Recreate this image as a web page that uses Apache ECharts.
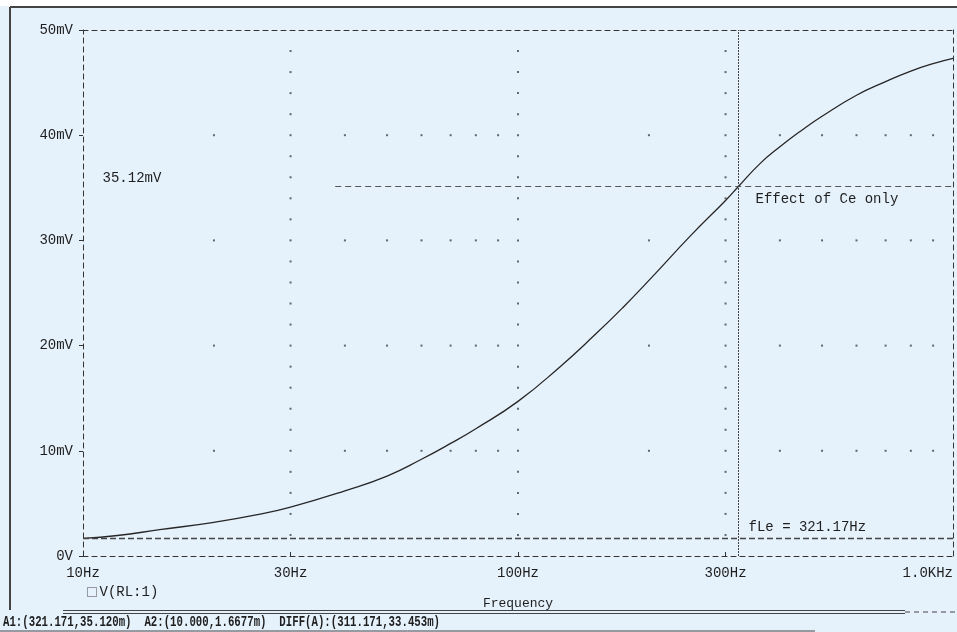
<!DOCTYPE html>
<html><head><meta charset="utf-8">
<script src="https://cdn.jsdelivr.net/npm/echarts@6/dist/echarts.min.js"></script>
<style>html,body{margin:0;padding:0;background:#e5f1fb;}#c{width:957px;height:632px;}</style>
</head><body><div id="c"></div>
<script>
// ---- data ----
const freqHz = [10,12,15,20,25,30,40,50,60,70,80,100,125,150,175,200,250,300,321.17,360,400,450,500,600,700,800,900,1000];
const vRL_mV = [1.67,1.95,2.5,3.2,3.9,4.65,6.2,7.6,9.2,10.7,12.1,14.7,18.0,21.0,23.7,26.2,30.5,33.8,35.12,37.3,38.9,40.5,41.8,43.8,45.1,46.1,46.8,47.3];
const xTickValues = [10,30,100,300,1000];
const xTickLabels = ['10Hz','30Hz','100Hz','300Hz','1.0KHz'];
const yTickValues = [0,10,20,30,40,50];
const yTickLabels = ['0V','10mV','20mV','30mV','40mV','50mV'];
const gridDotFreqs = [20,30,40,50,60,70,80,90,100,200,300,400,500,600,700,800,900];
const gridDotLevels = [10,20,30,40];
const gridColumnFreqs = [30,100,300];
const cursorA1 = [321.17, 35.12];
const cursorA2 = [10.0, 1.6677];
const cursorA1LineStart = 38;   // visible part of the A1 level line starts here (Hz)
const annoNames = ['35.12mV','Effect of Ce only','fLe = 321.17Hz'];
const annoFreq = [11.06, 350.6, 337.9];
const annoLevel = [35.93, 33.94, 2.76];
const statusText = 'A1:(321.171,35.120m)  A2:(10.000,1.6677m)  DIFF(A):(311.171,33.453m)';

const FONT = 'Liberation Mono';
const INK = '#1e1e1e';

const curve = freqHz.map((f,i)=>[f, vRL_mV[i]]);
const dots = [];
gridDotFreqs.forEach(f=>gridDotLevels.forEach(v=>dots.push([f,v])));
gridColumnFreqs.forEach(f=>{ for(let v=2; v<50; v+=2){ if(v%10) dots.push([f,v]); } });

function xLabel(v){
  const i = xTickValues.findIndex(t=>Math.abs(Math.log10(t)-Math.log10(v))<1e-6);
  return i>=0 ? xTickLabels[i] : '';
}
function yLabel(v){
  const i = yTickValues.findIndex(t=>Math.abs(t-v)<1e-9);
  return i>=0 ? yTickLabels[i] : '';
}

const chart = echarts.init(document.getElementById('c'), null, {renderer:'canvas'});
const dashed = {color:'#333', width:1, type:[5,4]};
chart.setOption({
  backgroundColor:'#e5f1fb',
  animation:false,
  grid:{left:83, right:4, top:30, bottom:76},
  legend:{
    data:[{name:'V(RL:1)', icon:'rect'}],
    left:82, top:580, itemWidth:9, itemHeight:9, itemGap:6,
    itemStyle:{color:'#e5f1fb', borderColor:'#444', borderWidth:1, borderType:'dotted'},
    textStyle:{fontFamily:FONT, fontSize:14, color:INK, padding:[0,0,0,-2]}
  },
  xAxis:[{
    type:'log', logBase:10, min:10, max:1000,
    axisLine:{onZero:false, lineStyle:dashed},
    axisTick:{show:true, inside:true, length:4, customValues:xTickValues, lineStyle:{color:'#333'}},
    axisLabel:{customValues:xTickValues, formatter:xLabel, fontFamily:FONT, fontSize:14, color:INK, margin:10, alignMaxLabel:'right'},
    splitLine:{show:false}, minorTick:{show:false}, minorSplitLine:{show:false},
    name:'Frequency', nameLocation:'middle', nameGap:41,
    nameTextStyle:{fontFamily:FONT, fontSize:13, color:INK}
  },{
    type:'log', logBase:10, min:10, max:1000, position:'top',
    axisLine:{onZero:false, lineStyle:dashed},
    axisTick:{show:false}, axisLabel:{show:false}, splitLine:{show:false}
  }],
  yAxis:[{
    type:'value', min:0, max:50, interval:10,
    axisLine:{show:true, onZero:false, lineStyle:dashed},
    axisTick:{show:true, length:4, lineStyle:{color:'#333'}},
    axisLabel:{formatter:yLabel, fontFamily:FONT, fontSize:14, color:INK, margin:10},
    splitLine:{show:false}
  },{
    type:'value', min:0, max:50, interval:10, position:'right',
    axisLine:{show:true, onZero:false, lineStyle:dashed},
    axisTick:{show:false}, axisLabel:{show:false}, splitLine:{show:false}
  }],
  series:[{
    name:'grid', type:'scatter', data:dots, symbol:'rect', symbolSize:2,
    itemStyle:{color:'#444'}, silent:true, z:1
  },{
    name:'V(RL:1)', type:'line', data:curve, showSymbol:false, smooth:true,
    lineStyle:{color:'#262626', width:1.3}, itemStyle:{color:'#262626'}, z:3,
    markLine:{
      silent:true, symbol:'none', label:{show:false},
      data:[
        [{coord:[cursorA1LineStart, cursorA1[1]], lineStyle:{color:'#555', width:1, type:[6,4]}}, {coord:[1000, cursorA1[1]]}],
        {yAxis:cursorA2[1], lineStyle:{color:'#444', width:1.4, type:[6,3]}},
        {xAxis:cursorA1[0], lineStyle:{color:'#444', width:1, type:[2,1]}}
      ]
    },
    markPoint:{
      silent:true, symbol:'circle', symbolSize:1, itemStyle:{color:'rgba(0,0,0,0)'},
      label:{show:true, position:'right', distance:0, formatter:'{b}', fontFamily:FONT, fontSize:14, color:INK},
      data: annoNames.map((n,i)=>({name:n, coord:[annoFreq[i], annoLevel[i]]}))
    }
  }],
  graphic:[
    {type:'rect', shape:{x:0,y:0,width:957,height:6}, style:{fill:'#ffffff'}, silent:true},
    {type:'line', shape:{x1:10,y1:7,x2:957,y2:7}, style:{stroke:'#444', lineWidth:2}, silent:true},
    {type:'line', shape:{x1:10,y1:7,x2:10,y2:610}, style:{stroke:'#444', lineWidth:2}, silent:true},
    {type:'line', shape:{x1:63,y1:610.5,x2:905,y2:610.5}, style:{stroke:'#444', lineWidth:1}, silent:true},
    {type:'line', shape:{x1:63,y1:613.5,x2:905,y2:613.5}, style:{stroke:'#444', lineWidth:1}, silent:true},
    {type:'line', shape:{x1:905,y1:612,x2:957,y2:612}, style:{stroke:'#444', lineWidth:1, lineDash:[5,4]}, silent:true},
    {type:'line', shape:{x1:0,y1:631,x2:815,y2:631}, style:{stroke:'#444', lineWidth:1}, silent:true},
    {type:'text', x:3, y:622, scaleX:0.765, style:{text:statusText, font:'bold 14px "Liberation Mono"', fill:INK, verticalAlign:'middle'}, silent:true}
  ]
});
</script></body></html>
